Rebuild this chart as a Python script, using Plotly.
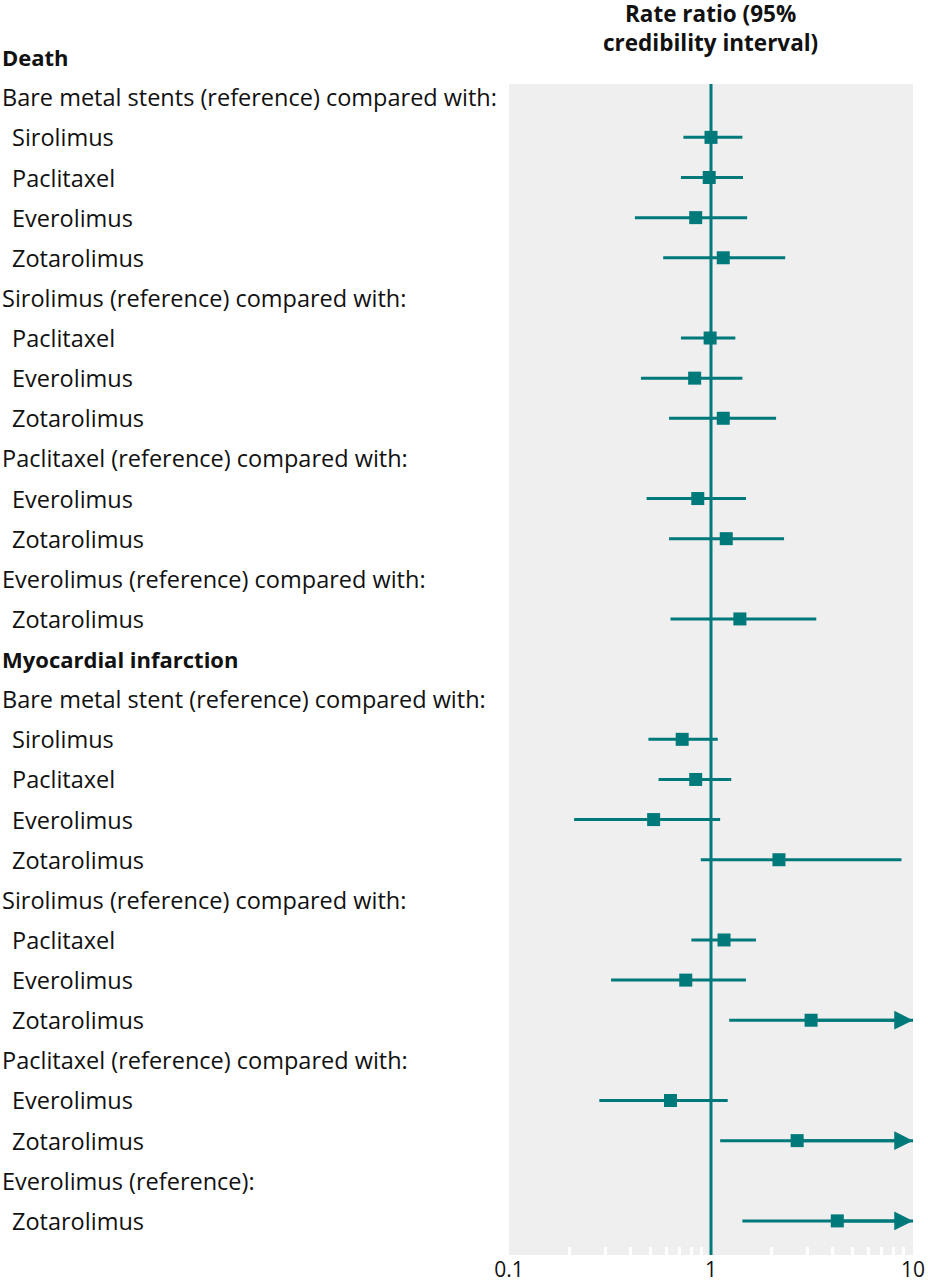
import math
import plotly.graph_objects as go

# ---- data ----
labels = [
    "Death",
    "Bare metal stents (reference) compared with:",
    "Sirolimus", "Paclitaxel", "Everolimus", "Zotarolimus",
    "Sirolimus (reference) compared with:",
    "Paclitaxel", "Everolimus", "Zotarolimus",
    "Paclitaxel (reference) compared with:",
    "Everolimus", "Zotarolimus",
    "Everolimus (reference) compared with:",
    "Zotarolimus",
    "Myocardial infarction",
    "Bare metal stent (reference) compared with:",
    "Sirolimus", "Paclitaxel", "Everolimus", "Zotarolimus",
    "Sirolimus (reference) compared with:",
    "Paclitaxel", "Everolimus", "Zotarolimus",
    "Paclitaxel (reference) compared with:",
    "Everolimus", "Zotarolimus",
    "Everolimus (reference):",
    "Zotarolimus",
]
kinds = (["title", "group", "item", "item", "item", "item", "group", "item", "item", "item",
          "group", "item", "item", "group", "item"]
         + ["title", "group", "item", "item", "item", "item", "group", "item", "item", "item",
            "group", "item", "item", "group", "item"])

# rate ratio estimates and 95% credibility limits (None = heading row)
estimate = [None, None, 1.00, 0.98, 0.84, 1.15, None, 0.99, 0.83, 1.15, None, 0.86, 1.19, None, 1.39,
            None, None, 0.72, 0.84, 0.52, 2.17, None, 1.16, 0.75, 3.13, None, 0.63, 2.67, None, 4.22]
lower = [None, None, 0.73, 0.71, 0.42, 0.58, None, 0.71, 0.45, 0.62, None, 0.48, 0.62, None, 0.63,
         None, None, 0.49, 0.55, 0.21, 0.89, None, 0.80, 0.32, 1.23, None, 0.28, 1.11, None, 1.43]
upper = [None, None, 1.43, 1.44, 1.51, 2.33, None, 1.32, 1.43, 2.10, None, 1.49, 2.30, None, 3.32,
         None, None, 1.08, 1.26, 1.11, 8.77, None, 1.67, 1.49, 10.0, None, 1.21, 10.0, None, 10.0]
# upper limit runs beyond the axis (drawn as an arrow)
beyond_axis = [False] * 24 + [True, False, False, True, False, True]

x_ticks = [0.1, 1, 10]
x_ticktext = ["0.1", "1", "10"]
minor_ticks = [0.2, 0.3, 0.4, 0.5, 0.6, 0.7, 0.8, 0.9, 2, 3, 4, 5, 6, 7, 8, 9]

TEAL = "#00797b"
FONT = "Open Sans"
W, H = 928, 1280
ML, MR, MT, MB = 509, 15, 84, 25
PW = W - ML - MR
Y_BOTTOM, Y_TOP = 29.85, 0.67   # y-axis range (reversed)


def px_to_paper_x(px):
    return (px - ML) / PW


def row_to_paper_y(r):
    return (Y_BOTTOM - r) / (Y_BOTTOM - Y_TOP)


rows = list(range(len(labels)))
idx = [i for i in rows if estimate[i] is not None]
xs = [estimate[i] for i in idx]
ys = [i for i in idx]
err_plus = [upper[i] - estimate[i] for i in idx]
err_minus = [estimate[i] - lower[i] for i in idx]

fig = go.Figure()
fig.add_trace(go.Scatter(
    x=xs, y=ys, mode="markers",
    marker=dict(symbol="square", size=13, color=TEAL),
    error_x=dict(type="data", symmetric=False, array=err_plus, arrayminus=err_minus,
                 color=TEAL, thickness=3, width=0),
    showlegend=False, hoverinfo="skip",
))

annotations = []
for i in rows:
    k = kinds[i]
    if k == "title":
        txt, size = "<b>%s</b>" % labels[i], 22
    else:
        txt, size = labels[i], 23.5
    annotations.append(dict(
        x=px_to_paper_x(0 if k != "item" else 10), xref="paper",
        xanchor="left", yanchor="middle",
        y=row_to_paper_y(i), yref="paper",
        text=txt, showarrow=False, font=dict(family=FONT, size=size, color="#111"),
    ))
    if beyond_axis[i]:
        annotations.append(dict(
            x=math.log10(upper[i]), y=i, xref="x", yref="y",
            ax=math.log10(estimate[i]), ay=i, axref="x", ayref="y",
            text="", showarrow=True, arrowhead=2, arrowsize=1.25, arrowwidth=3,
            arrowcolor=TEAL, standoff=0, startstandoff=0,
        ))

annotations.append(dict(
    x=px_to_paper_x(710), y=1, xref="paper", yref="paper", yanchor="top", xanchor="center",
    text="<b>Rate ratio (95%<br>credibility interval)</b>", showarrow=False,
    font=dict(family=FONT, size=22.5, color="#111"), align="center",
    yshift=MT + 4,
))

fig.add_shape(type="line", x0=1, x1=1, xref="x", y0=0, y1=1, yref="paper",
              line=dict(color=TEAL, width=3), layer="above")

fig.update_layout(
    width=W, height=H,
    margin=dict(l=ML, r=MR, t=MT, b=MB, autoexpand=False),
    paper_bgcolor="white", plot_bgcolor="#efefef",
    font=dict(family=FONT, size=20, color="#111"),
    annotations=annotations,
    xaxis=dict(type="log", range=[-1, 1], tickvals=x_ticks, ticktext=x_ticktext,
               showgrid=False, zeroline=False, showline=False, ticks="",
               tickfont=dict(size=21), automargin=False, ticklabeloverflow="allow",
               minor=dict(tickvals=minor_ticks, ticks="inside", ticklen=8,
                          tickwidth=3, tickcolor="white", showgrid=False)),
    yaxis=dict(range=[Y_BOTTOM, Y_TOP], visible=False, showgrid=False, zeroline=False,
               automargin=False),
)

fig.write_html("out.html", config={"displayModeBar": False},
               post_script="document.body.style.margin='0';document.body.style.overflow='hidden';")
